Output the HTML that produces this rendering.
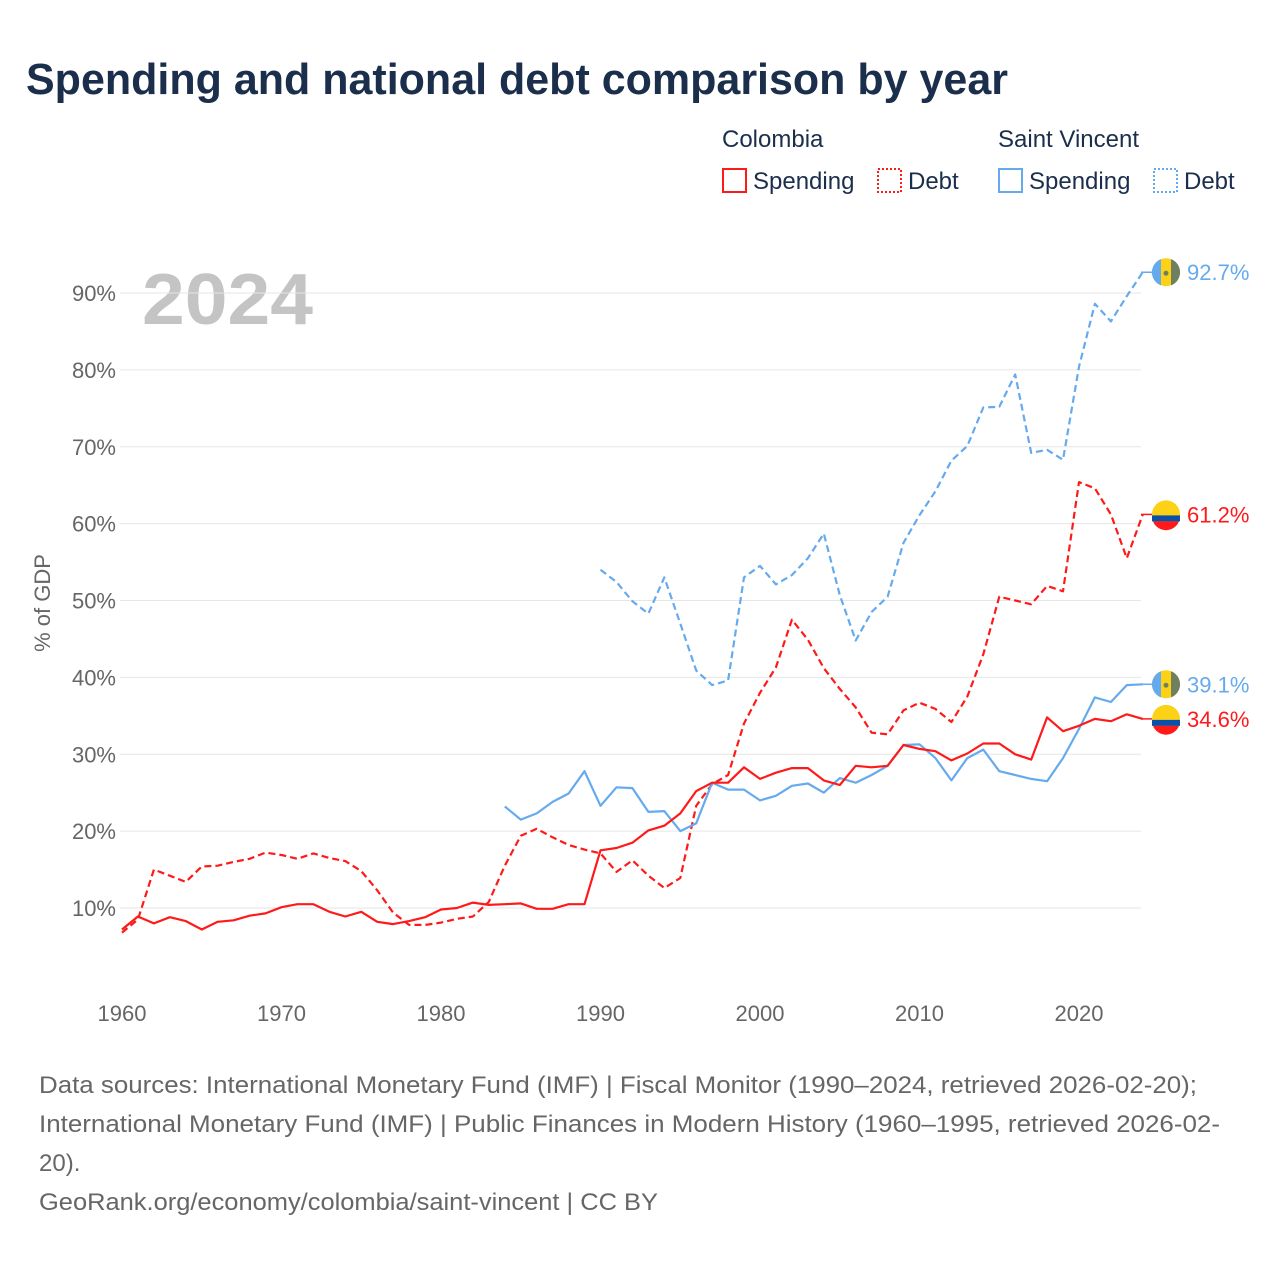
<!DOCTYPE html>
<html><head><meta charset="utf-8"><style>
body{margin:0;width:1280px;height:1280px;background:#fff;font-family:"Liberation Sans",sans-serif;overflow:hidden}
svg text{font-family:"Liberation Sans",sans-serif}
</style></head><body>
<svg id="chart" width="1280" height="1280">
<text x="26" y="94" font-size="44" font-weight="bold" fill="#1b2e4b" textLength="982" lengthAdjust="spacingAndGlyphs">Spending and national debt comparison by year</text>
<g font-size="24">
<text x="722" y="147" fill="#1b2e4b">Colombia</text>
<text x="998" y="147" fill="#1b2e4b">Saint Vincent</text>
<g><rect x="723" y="169" width="23" height="23" fill="none" stroke="#ff1a1a" stroke-width="2"/><text x="753" y="189" fill="#1b2e4b">Spending</text></g>
<g><rect x="878" y="169" width="23" height="23" fill="none" stroke="#ff1a1a" stroke-width="2" stroke-dasharray="2,2"/><text x="908" y="189" fill="#1b2e4b">Debt</text></g>
<g><rect x="999" y="169" width="23" height="23" fill="none" stroke="#66aaee" stroke-width="2"/><text x="1029" y="189" fill="#1b2e4b">Spending</text></g>
<g><rect x="1154" y="169" width="23" height="23" fill="none" stroke="#66aaee" stroke-width="2" stroke-dasharray="2,2"/><text x="1184" y="189" fill="#1b2e4b">Debt</text></g>
</g>
<text x="142" y="324" font-size="72" font-weight="bold" fill="#c4c4c4" textLength="171" lengthAdjust="spacingAndGlyphs">2024</text>
<text transform="translate(50,603) rotate(-90)" text-anchor="middle" font-size="22" fill="#666">% of GDP</text>
<g id="grid"></g><g id="marks"></g><g id="ends"></g>
<g font-size="24" fill="#666">
<text x="39" y="1093" textLength="1158" lengthAdjust="spacingAndGlyphs">Data sources: International Monetary Fund (IMF) | Fiscal Monitor (1990–2024, retrieved 2026-02-20);</text>
<text x="39" y="1132" textLength="1181" lengthAdjust="spacingAndGlyphs">International Monetary Fund (IMF) | Public Finances in Modern History (1960–1995, retrieved 2026-02-</text>
<text x="39" y="1171">20).</text>
<text x="39" y="1210" textLength="619" lengthAdjust="spacingAndGlyphs">GeoRank.org/economy/colombia/saint-vincent | CC BY</text>
</g>
</svg>
<script>
const yTicks=[10,20,30,40,50,60,70,80,90];
const xTicks=[1960,1970,1980,1990,2000,2010,2020];
const colSpendStart=1960;
const colSpend=[7.2,8.9,8.0,8.8,8.3,7.2,8.2,8.4,9.0,9.3,10.1,10.5,10.5,9.5,8.9,9.5,8.2,7.9,8.3,8.8,9.8,10.0,10.7,10.4,10.5,10.6,9.9,9.9,10.5,10.5,17.5,17.8,18.5,20.1,20.7,22.3,25.2,26.3,26.3,28.3,26.8,27.6,28.2,28.2,26.6,26.0,28.5,28.3,28.5,31.2,30.7,30.4,29.2,30.1,31.4,31.4,30.0,29.3,34.8,33.0,33.7,34.6,34.3,35.2,34.6];
const colDebtStart=1960;
const colDebt=[6.8,8.5,15.0,14.2,13.4,15.4,15.5,16.0,16.4,17.2,16.9,16.4,17.1,16.5,16.1,14.8,12.3,9.4,7.8,7.8,8.1,8.6,8.9,10.8,15.5,19.4,20.3,19.2,18.2,17.6,17.1,14.7,16.2,14.2,12.6,13.9,23.3,26.1,27.3,34.0,38.0,41.3,47.5,44.9,41.2,38.5,36.1,32.8,32.6,35.7,36.7,35.9,34.2,37.5,43.0,50.5,50.0,49.5,51.9,51.2,65.4,64.6,61.2,55.5,61.2];
const svgSpendStart=1984;
const svgSpend=[23.2,21.5,22.3,23.8,24.9,27.8,23.3,25.7,25.6,22.5,22.6,20.0,21.0,26.3,25.4,25.4,24.0,24.6,25.9,26.2,25.0,26.9,26.3,27.3,28.5,31.2,31.3,29.5,26.6,29.5,30.6,27.8,27.3,26.8,26.5,29.5,33.3,37.4,36.8,39.0,39.1];
const svgDebtStart=1990;
const svgDebt=[54.0,52.4,49.9,48.3,53.0,47.0,40.9,39.0,39.6,53.0,54.5,52.1,53.3,55.5,58.7,50.7,44.8,48.5,50.5,57.5,61.1,64.2,68.2,70.1,75.1,75.2,79.4,69.2,69.6,68.3,80.4,88.6,86.3,89.6,92.7];
const X=y=>122+(y-1960)*15.95;
const Y=v=>908-(v-10)*7.6875;
const NS="http://www.w3.org/2000/svg";
function mk(t,a,p){const e=document.createElementNS(NS,t);for(const k in a)e.setAttribute(k,a[k]);p.appendChild(e);return e;}
const grid=document.getElementById('grid'),marks=document.getElementById('marks'),ends=document.getElementById('ends');
yTicks.forEach(v=>{
 const l=mk('line',{x1:120,x2:1141,y1:Y(v),y2:Y(v),stroke:'#e6e6e6','stroke-width':1},grid);
 
 
 const t=mk('text',{x:116,y:Y(v)+8,'text-anchor':'end','font-size':22,fill:'#666'},grid);
 t.textContent=v+'%';
 
 
});
xTicks.forEach(y=>{
 const t=mk('text',{x:X(y),y:1021,'text-anchor':'middle','font-size':22,fill:'#666'},grid);
 t.textContent=y;
 
 
});
function series(vals,start,color,dash,name){
 const pts=vals.map((v,i)=>X(start+i).toFixed(1)+','+Y(v).toFixed(1)).join(' ');
 const a={points:pts,fill:'none',stroke:color,'stroke-width':2.2,'stroke-linejoin':'round'};
 if(dash)a['stroke-dasharray']='7,4';
 const p=mk('polyline',a,marks);
 
 
}
series(colDebt,colDebtStart,'#ff1a1a',true,'colombia-debt-line');
series(svgDebt,svgDebtStart,'#66aaee',true,'svg-debt-line');
series(svgSpend,svgSpendStart,'#66aaee',false,'svg-spending-line');
series(colSpend,colSpendStart,'#ff1a1a',false,'colombia-spending-line');
function endLabel(v,color,flag,name){
 const y=Y(v),cx=1166;
 const g=mk('g',{},ends);
 
 
 mk('line',{x1:1141,x2:1152,y1:y,y2:y,stroke:color,'stroke-width':1.5},g);
 if(flag==='co'){
  mk('circle',{cx:cx,cy:y,r:14,fill:'#fcd116'},g);
  mk('rect',{x:cx-14,y:y+1,width:28,height:6,fill:'#0a4fa8'},g);
  mk('path',{d:`M${cx-13},${y+7} A14,14 0 0 0 ${cx+13},${y+7} Z`,fill:'#ff1a1a'},g);
 }else{
  mk('circle',{cx:cx,cy:y,r:14,fill:'#fcd116'},g);
  mk('path',{d:`M${cx-5},${y-13.1} A14,14 0 0 0 ${cx-5},${y+13.1} Z`,fill:'#66aaee'},g);
  mk('path',{d:`M${cx+5},${y-13.1} A14,14 0 0 1 ${cx+5},${y+13.1} Z`,fill:'#6f8060'},g);
  mk('circle',{cx:cx,cy:y+1,r:2.5,fill:'#6f8060'},g);
 }
 const t=mk('text',{x:1187,y:y+8,'font-size':22,fill:color},g);
 t.textContent=v.toFixed(1)+'%';
}
endLabel(svgDebt[svgDebt.length-1],'#66aaee','svg','end-label-svg-debt');
endLabel(colDebt[colDebt.length-1],'#ff1a1a','co','end-label-colombia-debt');
endLabel(svgSpend[svgSpend.length-1],'#66aaee','svg','end-label-svg-spending');
endLabel(colSpend[colSpend.length-1],'#ff1a1a','co','end-label-colombia-spending');
</script>
</body></html>
